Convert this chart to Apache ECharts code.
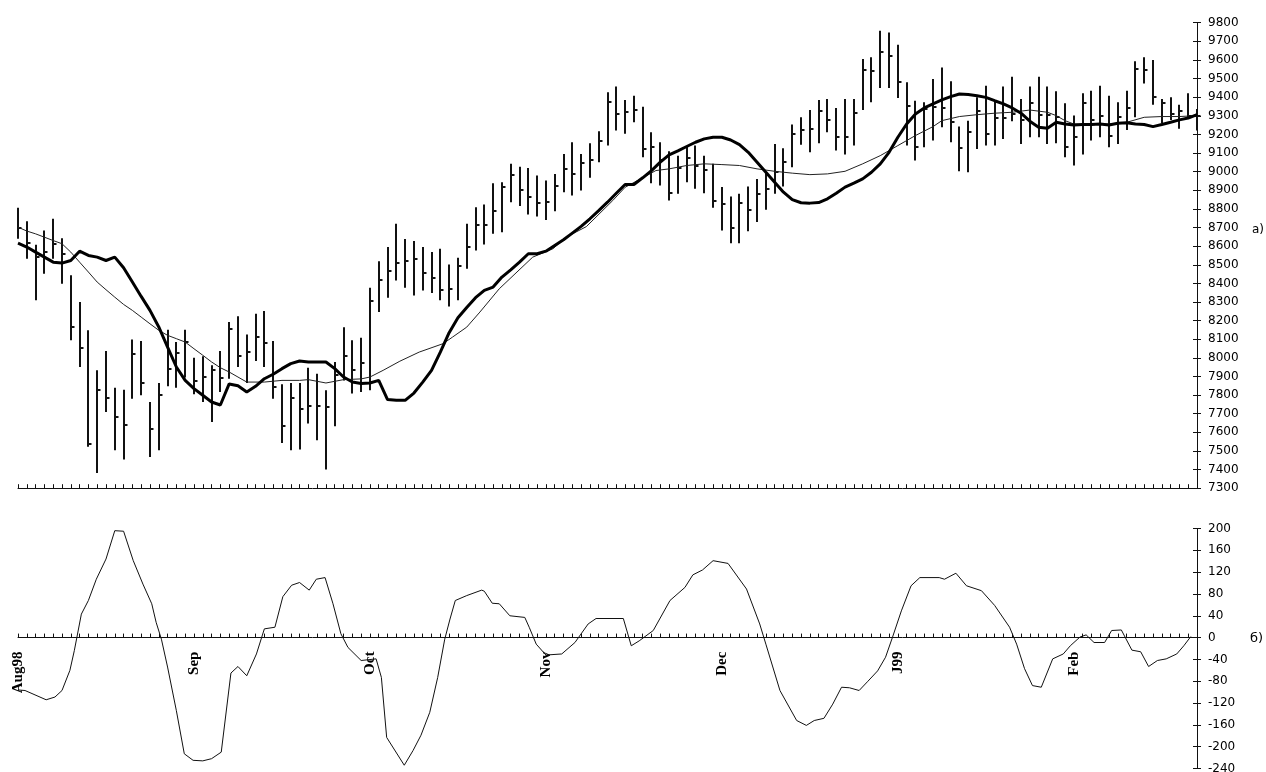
<!DOCTYPE html>
<html>
<head>
<meta charset="utf-8">
<title>Bar chart with moving averages and oscillator</title>
<script src="https://cdn.jsdelivr.net/npm/echarts@6/dist/echarts.min.js"></script>
<style>
  html, body { margin: 0; padding: 0; background: #fff; }
  #chart { width: 1266px; height: 772px; }
</style>
</head>
<body>
<div id="chart"></div>
<script>
// Daily high / low / close, one entry per trading day (index 0 = first day, Aug 1998)
const highs = [
  8806, 8734, 8607, 8684, 8747, 8643, 8443, 8300, 8148, 7933,
  8037, 7840, 7829, 8098, 8090, 7763, 7865, 8151, 8085, 8151,
  8001, 8008, 7960, 8037, 8192, 8223, 8126, 8237, 8251, 8090,
  7858, 7865, 7865, 7947, 7915, 7826, 7978, 8165, 8094, 8108,
  8377, 8519, 8595, 8720, 8639, 8627, 8595, 8568, 8586, 8502,
  8538, 8720, 8809, 8823, 8938, 8943, 9042, 9027, 9020, 8979,
  8952, 8988, 9095, 9158, 9095, 9153, 9217, 9426, 9457, 9385,
  9408, 9349, 9212, 9158, 9110, 9086, 9135, 9140, 9086, 9042,
  8917, 8866, 8881, 8920, 8961, 8992, 9149, 9126, 9253, 9292,
  9331, 9385, 9390, 9342, 9390, 9390, 9605, 9614, 9757, 9748,
  9682, 9480, 9381, 9373, 9498, 9560, 9485, 9242, 9274, 9399,
  9462, 9381, 9457, 9510, 9390, 9457, 9510, 9457, 9432, 9367,
  9301, 9421, 9435, 9462, 9408, 9373, 9435, 9593, 9614, 9600,
  9390, 9399, 9360, 9421, 9337
];
const lows = [
  8640, 8532, 8309, 8452, 8532, 8398, 8094, 7951, 7522, 7382,
  7709, 7504, 7454, 7781, 7799, 7468, 7504, 7847, 7840, 7894,
  7804, 7763, 7656, 7816, 7888, 7951, 7865, 7983, 7951, 7781,
  7543, 7504, 7508, 7647, 7557, 7400, 7633, 7879, 7808, 7816,
  7826, 8246, 8323, 8416, 8377, 8335, 8362, 8348, 8309, 8276,
  8309, 8479, 8577, 8609, 8666, 8675, 8836, 8815, 8770, 8759,
  8741, 8788, 8890, 8872, 8899, 8967, 9051, 9140, 9221, 9203,
  9265, 9077, 8938, 8926, 8845, 8881, 8943, 8908, 8884, 8806,
  8684, 8616, 8616, 8680, 8729, 8795, 8881, 8920, 9024, 9145,
  9104, 9153, 9212, 9113, 9092, 9140, 9331, 9373, 9449, 9449,
  9396, 9140, 9060, 9131, 9167, 9238, 9158, 9002, 8997, 9122,
  9140, 9140, 9176, 9271, 9149, 9185, 9185, 9149, 9153, 9077,
  9033, 9092, 9167, 9185, 9131, 9149, 9224, 9292, 9474, 9360,
  9260, 9278, 9230, 9292, 9221
];
const closes = [
  8700, 8616, 8541, 8568, 8613, 8560, 8165, 8055, 7540, 7826,
  7786, 7683, 7642, 8019, 7867, 7620, 7799, 7942, 8026, 8085,
  7874, 7897, 7933, 7894, 8156, 8008, 8031, 8112, 8082, 7843,
  7634, 7784, 7727, 7744, 7744, 7736, 7906, 8008, 7937, 7972,
  8303, 8420, 8466, 8509, 8519, 8532, 8455, 8430, 8366, 8369,
  8491, 8598, 8714, 8714, 8788, 8920, 8983, 8899, 8866, 8831,
  8836, 8925, 9015, 8988, 9045, 9060, 9162, 9373, 9310, 9319,
  9333, 9122, 9135, 9063, 8886, 9020, 9074, 9033, 9010, 8845,
  8824, 8698, 8831, 8795, 8881, 8908, 8997, 9051, 9203, 9224,
  9230, 9328, 9278, 9185, 9188, 9314, 9546, 9539, 9641, 9623,
  9480, 9355, 9131, 9335, 9345, 9342, 9265, 9128, 9212, 9328,
  9203, 9288, 9288, 9310, 9278, 9367, 9306, 9306, 9292, 9135,
  9185, 9367, 9278, 9297, 9194, 9296, 9342, 9551, 9546, 9399,
  9367, 9310, 9328, 9301, 9301
];

// Short (fast) moving average, one value per day
const fastAverage = [
  8616, 8595, 8568, 8541, 8514, 8509, 8523, 8573, 8550, 8541,
  8523, 8541, 8484, 8407, 8330, 8255, 8166, 8058, 7951, 7879,
  7835, 7799, 7763, 7747, 7860, 7850, 7817, 7847, 7888, 7912,
  7942, 7969, 7983, 7978, 7978, 7978, 7942, 7897, 7870, 7862,
  7865, 7879, 7776, 7772, 7772, 7811, 7870, 7933, 8031, 8135,
  8215, 8270, 8323, 8362, 8380, 8434, 8473, 8514, 8559, 8559,
  8573, 8604, 8634, 8670, 8706, 8747, 8791, 8836, 8884, 8931,
  8931, 8967, 9006, 9051, 9090, 9112, 9135, 9158, 9176, 9185,
  9185, 9170, 9145, 9104, 9051, 8997, 8943, 8890, 8850, 8833,
  8831, 8834, 8854, 8884, 8917, 8938, 8961, 8997, 9042, 9104,
  9185, 9256, 9310, 9342, 9364, 9385, 9403, 9417, 9414, 9408,
  9399, 9381, 9364, 9342, 9314, 9271, 9238, 9233, 9265, 9256,
  9251, 9253, 9253, 9256, 9251, 9260, 9263, 9256, 9253, 9242,
  9253, 9265, 9278, 9288, 9306
];

// Long (slow) moving average: [day index, value]
const slowAverage = [
  [0, 8702], [1, 8681], [2, 8666], [3, 8648], [4, 8630], [5, 8613], [6, 8568],
  [7, 8514], [8, 8461], [9, 8407], [10, 8366], [11, 8326], [12, 8287], [13, 8255],
  [14, 8219], [15, 8183], [16, 8148], [17, 8121], [18, 8103], [19, 8085], [20, 8049],
  [21, 8014], [22, 7978], [23, 7947], [24, 7924], [25, 7897], [26, 7870], [28, 7870],
  [30, 7879], [32, 7879], [33, 7883], [35, 7865], [37, 7883], [39, 7887], [40, 7897],
  [41.5, 7933], [43.4, 7982], [45.6, 8031], [48.3, 8076], [49.4, 8112], [51, 8165],
  [52.5, 8246], [54.7, 8371], [58.5, 8541], [60.8, 8586], [62.3, 8648], [64.6, 8705],
  [67.6, 8845], [69, 8916], [72.5, 9006], [74, 9015], [76, 9033], [78, 9042],
  [80, 9038], [82, 9033], [84, 9015], [86, 9002], [88, 8992], [90, 8984], [92, 8988],
  [94, 9002], [96, 9042], [98, 9086], [100, 9140], [102, 9194], [104, 9242],
  [105, 9274], [107, 9296], [109, 9306], [111, 9314], [113, 9319], [115, 9331],
  [117, 9319], [118, 9301], [119, 9274], [120, 9256], [122, 9253], [124, 9256],
  [126, 9265], [128, 9292], [130, 9296], [132, 9296], [134, 9301]
];

// Oscillator (lower panel): [day index, value]
const oscillator = [
  [0, -96], [0.8, -97], [3.2, -114], [4.2, -109], [5, -97], [5.9, -60], [6.4, -24],
  [6.7, 1], [7.2, 43], [8, 68], [8.9, 107], [10, 144], [11, 196], [12, 195],
  [13.1, 141], [14.2, 98], [15.2, 62], [15.7, 28], [16.3, -3], [17, -54], [18, -134],
  [18.9, -213], [19.9, -225], [21, -226], [22, -222], [23.1, -210], [24.2, -65],
  [25, -53], [26, -70], [27.1, -30], [28, 16], [29.2, 19], [30.1, 75], [31.1, 96],
  [32, 101], [33.1, 87], [33.9, 107], [34.9, 110], [35.8, 62], [36.7, 7], [37.5, -18],
  [39, -42], [40.7, -39], [41.3, -73], [41.9, -183], [43.9, -234], [44.9, -207],
  [45.8, -179], [46.8, -137], [47.7, -73], [48.5, -3], [49.1, 34], [49.7, 68],
  [51, 77], [52.7, 87], [53, 85], [53.9, 63], [54.7, 62], [55.9, 40], [57.6, 37],
  [58.1, 19], [58.9, -12], [60, -32], [61.8, -30], [63.3, -9], [64.8, 25], [65.7, 35],
  [68.8, 35], [69.7, -15], [70.6, -6], [72.2, 13], [74.1, 68], [75.8, 92], [76.7, 115],
  [77.8, 124], [79, 141], [80.7, 136], [82.8, 89], [84.3, 25], [85, -12], [86.6, -97],
  [88.5, -152], [89.6, -161], [90.5, -152], [91.6, -148], [92.6, -122], [93.6, -91],
  [94.5, -92], [95.6, -97], [96.6, -80], [97.7, -61], [98.6, -36], [99.4, 1],
  [100.4, 49], [101.5, 95], [102.5, 110], [104.7, 110], [105.3, 107], [106.6, 118],
  [107.8, 95], [109.5, 86], [111, 59], [112.7, 19], [113.5, -12], [114.4, -57],
  [115.3, -88], [116.3, -91], [117.6, -39], [118.8, -30], [119.6, -15], [120.7, 1],
  [121.4, 5], [122.3, -9], [123.5, -9], [124.3, 13], [125.4, 14], [126.6, -23],
  [127.6, -26], [128.5, -53], [129.5, -42], [130.5, -39], [131.7, -30], [132.5, -15],
  [133.3, 2]
];

// Month labels on the day axis
const monthDays = [0, 20, 40, 60, 80, 100, 120];
const monthNames = ['Aug98', 'Sep', 'Oct', 'Nov', 'Dec', 'J99', 'Feb'];

// Price axis and oscillator axis ranges
const priceAxis = { min: 7300, max: 9800, step: 100 };
const oscAxis = { min: -240, max: 200, step: 40 };

const lastDay = highs.length - 1;
const hlcData = highs.map((h, i) => [i, h, lows[i], closes[i]]);
const fastData = fastAverage.map((v, i) => [i, v]);

const INK = '#111';
const labelFont = 'DejaVu Sans';

// Plot rectangles (pixels)
const PLOT_LEFT = 18, PLOT_RIGHT = 69;
const PRICE_TOP = 22.7, PRICE_H = 465.5;
const OSC_TOP = 528.5, OSC_H = 240;
const OSC_ZERO_H = OSC_H * oscAxis.max / (oscAxis.max - oscAxis.min);

function renderHLC(params, api) {
  const day = api.value(0);
  const hi = api.coord([day, api.value(1)]);
  const lo = api.coord([day, api.value(2)]);
  const cl = api.coord([day, api.value(3)]);
  const x = Math.round(hi[0]);
  const yc = Math.round(cl[1]);
  return {
    type: 'group',
    children: [
      { type: 'line', shape: { x1: x, y1: hi[1], x2: x, y2: lo[1] },
        style: { stroke: INK, lineWidth: 2 } },
      { type: 'line', shape: { x1: x, y1: yc, x2: x + 3.5, y2: yc },
        style: { stroke: INK, lineWidth: 2 } }
    ]
  };
}

function gridAt(top, height) {
  return { left: PLOT_LEFT, right: PLOT_RIGHT, top: top, height: height,
           containLabel: false, outerBoundsMode: 'none' };
}

// Day axis: visible line with upward ticks, optional month labels
function dayAxis(gridIndex, visible, showLabels) {
  return {
    type: 'value', gridIndex: gridIndex, min: 0, max: lastDay, interval: 1,
    show: visible,
    axisLine: { show: true, onZero: false, lineStyle: { color: INK, width: 1 } },
    axisTick: { show: true, inside: true, length: 4, lineStyle: { color: INK, width: 1 } },
    splitLine: { show: false },
    axisLabel: {
      show: showLabels, rotate: 90, margin: 14, color: '#000',
      fontFamily: 'Liberation Serif', fontWeight: 'bold', fontSize: 15,
      formatter: function (v) {
        const r = Math.round(v);
        const k = monthDays.indexOf(r);
        return (k >= 0 && Math.abs(v - r) < 1e-6) ? monthNames[k] : '';
      }
    }
  };
}

// Right-hand value axis; the two copies (outer / inner ticks) form the cross ticks
function valueAxis(gridIndex, range, outer) {
  return {
    type: 'value', gridIndex: gridIndex, position: 'right',
    min: range.min, max: range.max, interval: range.step,
    axisLine: { show: true, onZero: false, lineStyle: { color: INK, width: 1 } },
    axisTick: { show: true, inside: !outer, length: 4, lineStyle: { color: INK, width: 1 } },
    splitLine: { show: false },
    axisLabel: {
      show: outer, margin: 11, color: '#000',
      fontFamily: labelFont, fontSize: 12,
      formatter: function (v) { return String(v); }
    }
  };
}

const chart = echarts.init(document.getElementById('chart'), null, { renderer: 'canvas' });

chart.setOption({
  backgroundColor: '#ffffff',
  animation: false,
  grid: [
    gridAt(PRICE_TOP, PRICE_H),   // 0: price panel
    gridAt(PRICE_TOP, PRICE_H),   // 1: price panel, inner ticks
    gridAt(OSC_TOP, OSC_H),       // 2: oscillator panel
    gridAt(OSC_TOP, OSC_H),       // 3: oscillator panel, inner ticks
    gridAt(OSC_TOP, OSC_ZERO_H)   // 4: zero line with month labels
  ],
  xAxis: [
    dayAxis(0, true, false),
    dayAxis(1, false, false),
    dayAxis(2, false, false),
    dayAxis(3, false, false),
    dayAxis(4, true, true)
  ],
  yAxis: [
    valueAxis(0, priceAxis, true),
    valueAxis(1, priceAxis, false),
    valueAxis(2, oscAxis, true),
    valueAxis(3, oscAxis, false),
    { type: 'value', gridIndex: 4, min: 0, max: oscAxis.max, show: false }
  ],
  series: [
    {
      name: 'HLC', type: 'custom', xAxisIndex: 0, yAxisIndex: 0,
      renderItem: renderHLC, data: hlcData, z: 2, clip: false
    },
    {
      name: 'Slow average', type: 'line', xAxisIndex: 0, yAxisIndex: 0,
      data: slowAverage, showSymbol: false, smooth: false, z: 3,
      lineStyle: { color: '#222', width: 1 }
    },
    {
      name: 'Fast average', type: 'line', xAxisIndex: 0, yAxisIndex: 0,
      data: fastData, showSymbol: false, smooth: false, z: 4,
      lineStyle: { color: '#000', width: 3 }
    },
    {
      name: 'Oscillator', type: 'line', xAxisIndex: 2, yAxisIndex: 2,
      data: oscillator, showSymbol: false, smooth: false, z: 3,
      lineStyle: { color: '#111', width: 1 }
    }
  ],
  graphic: [
    { type: 'text', left: 1252, top: 224,
      style: { text: 'a)', fontFamily: labelFont, fontSize: 12, fill: '#000' } },
    { type: 'text', left: 1250, top: 632,
      style: { text: 'б)', fontFamily: labelFont, fontSize: 13, fill: '#000' } }
  ]
});
</script>
</body>
</html>
